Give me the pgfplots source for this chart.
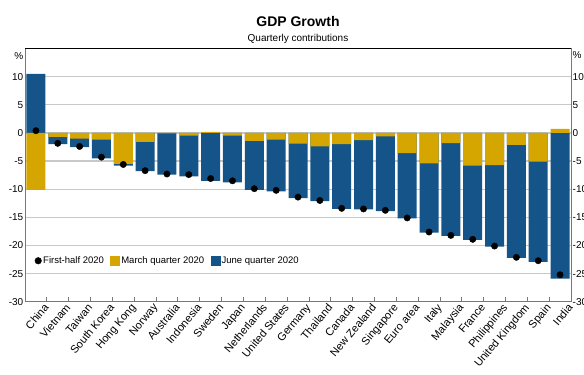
\documentclass[border=0pt]{standalone}
\usepackage{pgfplots}
\pgfplotsset{compat=1.18}
\usepackage{pgfplotstable}
\usepackage{fontspec}
\setmainfont{Liberation Sans}
\usetikzlibrary{calc}
\definecolor{myblue}{RGB}{20,84,136}
\definecolor{myyellow}{RGB}{214,166,0}
\definecolor{gridgray}{RGB}{200,200,200}
\definecolor{axgray}{RGB}{120,120,120}

% idx, March quarter, extent of June-quarter bar (from 0), first-half dot
\pgfplotstableread{
idx march blue half
0 -10.1 10.5 0.4
1 -0.7 -2.0 -1.85
2 -1.0 -2.5 -2.4
3 -1.2 -4.5 -4.3
4 -5.5 -5.8 -5.6
5 -1.6 -6.8 -6.7
6 -0.1 -7.4 -7.3
7 -0.5 -7.7 -7.4
8 0.2 -8.5 -8.1
9 -0.5 -8.8 -8.5
10 -1.4 -10.1 -9.9
11 -1.2 -10.4 -10.2
12 -1.9 -11.6 -11.4
13 -2.4 -12.1 -12.0
14 -2.0 -13.5 -13.4
15 -1.3 -13.6 -13.5
16 -0.6 -13.9 -13.75
17 -3.6 -15.2 -15.1
18 -5.4 -17.7 -17.6
19 -1.8 -18.3 -18.2
20 -5.8 -19.0 -18.9
21 -5.7 -20.2 -20.1
22 -2.1 -22.2 -22.1
23 -5.1 -22.9 -22.7
24 0.7 -25.9 -25.2
}\gdpdata

\begin{document}
\begin{tikzpicture}
\begin{axis}[name=main, scale only axis, width=546pt, height=253.3pt,
  xmin=-0.5, xmax=24.5, ymin=-30, ymax=15,
  axis line style={draw=axgray, line width=0.8pt},
  xtick={0,...,24},
  xticklabels={China,Vietnam,Taiwan,South Korea,Hong Kong,Norway,Australia,Indonesia,Sweden,Japan,Netherlands,United States,Germany,Thailand,Canada,New Zealand,Singapore,Euro area,Italy,Malaysia,France,Philippines,United Kingdom,Spain,India},
  xticklabel style={rotate=50, anchor=north east, inner sep=1pt, font=\fontsize{11}{12}\selectfont, xshift=5pt, yshift=-5pt},
  minor xtick={0.5,1.5,...,23.5},
  minor tick length=5pt, major tick length=0pt, tick align=inside,
  xtick pos=bottom, ytick pos=left,
  minor tick style={draw=axgray, line width=0.8pt},
  ytick={-30,-25,...,10}, yticklabels={-30,-25,-20,-15,-10,-5,0,5,10},
  yticklabel style={font=\fontsize{10}{12}\selectfont, inner sep=1.5pt},
  ymajorgrids, major grid style={draw=gridgray, line width=1.2pt},
  legend columns=3,
  legend style={at={(0.0174,0.162)}, anchor=west, draw=none, fill=none, inner sep=0pt,
    font=\fontsize{9.5}{11}\selectfont, nodes={inner sep=1.5pt},
    /tikz/every even column/.append style={column sep=5pt}},
  after end axis/.code={\draw[black, line width=1.6pt] (rel axis cs:0,1) -- (rel axis cs:1,1);},
]
\addplot[ybar, bar width=19pt, bar shift=0pt, fill=myblue, draw=none, forget plot] table[x=idx, y=blue] {\gdpdata};
\addplot[ybar, bar width=19pt, bar shift=0pt, fill=myyellow, draw=none, forget plot] table[x=idx, y=march] {\gdpdata};
\addplot[only marks, mark=*, mark size=3.2pt, black, forget plot] table[x=idx, y=half] {\gdpdata};
\addlegendimage{legend image code/.code={\fill[black] (3.5pt,0pt) circle (3.3pt);}}
\addlegendentry{First-half 2020}
\addlegendimage{legend image code/.code={\fill[myyellow] (0pt,-4.5pt) rectangle (9pt,4.5pt);}}
\addlegendentry{March quarter 2020}
\addlegendimage{legend image code/.code={\fill[myblue] (0pt,-4.5pt) rectangle (9pt,4.5pt);}}
\addlegendentry{June quarter 2020}
\end{axis}
\begin{axis}[scale only axis, width=546pt, height=253.3pt,
  xmin=-0.5, xmax=24.5, ymin=-30, ymax=15,
  axis x line=none, axis y line*=right,
  y axis line style={draw=axgray, line width=0.8pt},
  major tick length=0pt,
  ytick={-30,-25,...,10}, yticklabels={-30,-25,-20,-15,-10,-5,0,5,10},
  yticklabel style={font=\fontsize{10}{12}\selectfont, inner sep=1.5pt},
]
\addplot[draw=none, forget plot] coordinates {(0,0)};
\end{axis}
\node[anchor=base, font=\bfseries\fontsize{14}{16}\selectfont] at ($(main.north)+(0,21.8pt)$) {GDP Growth};
\node[anchor=base, font=\fontsize{10}{12}\selectfont] at ($(main.north)+(0,6.8pt)$) {Quarterly contributions};
\node[anchor=east, inner sep=1.5pt, font=\fontsize{10}{12}\selectfont] at ($(main.north west)+(0,-7.5pt)$) {\%};
\node[anchor=west, inner sep=1.5pt, font=\fontsize{10}{12}\selectfont] at ($(main.north east)+(0,-7pt)$) {\%};
\pgfresetboundingbox
\path[use as bounding box] ($(main.south west)+(-25pt,-72.3pt)$) rectangle ($(main.north east)+(13pt,48.5pt)$);
\end{tikzpicture}
\end{document}
